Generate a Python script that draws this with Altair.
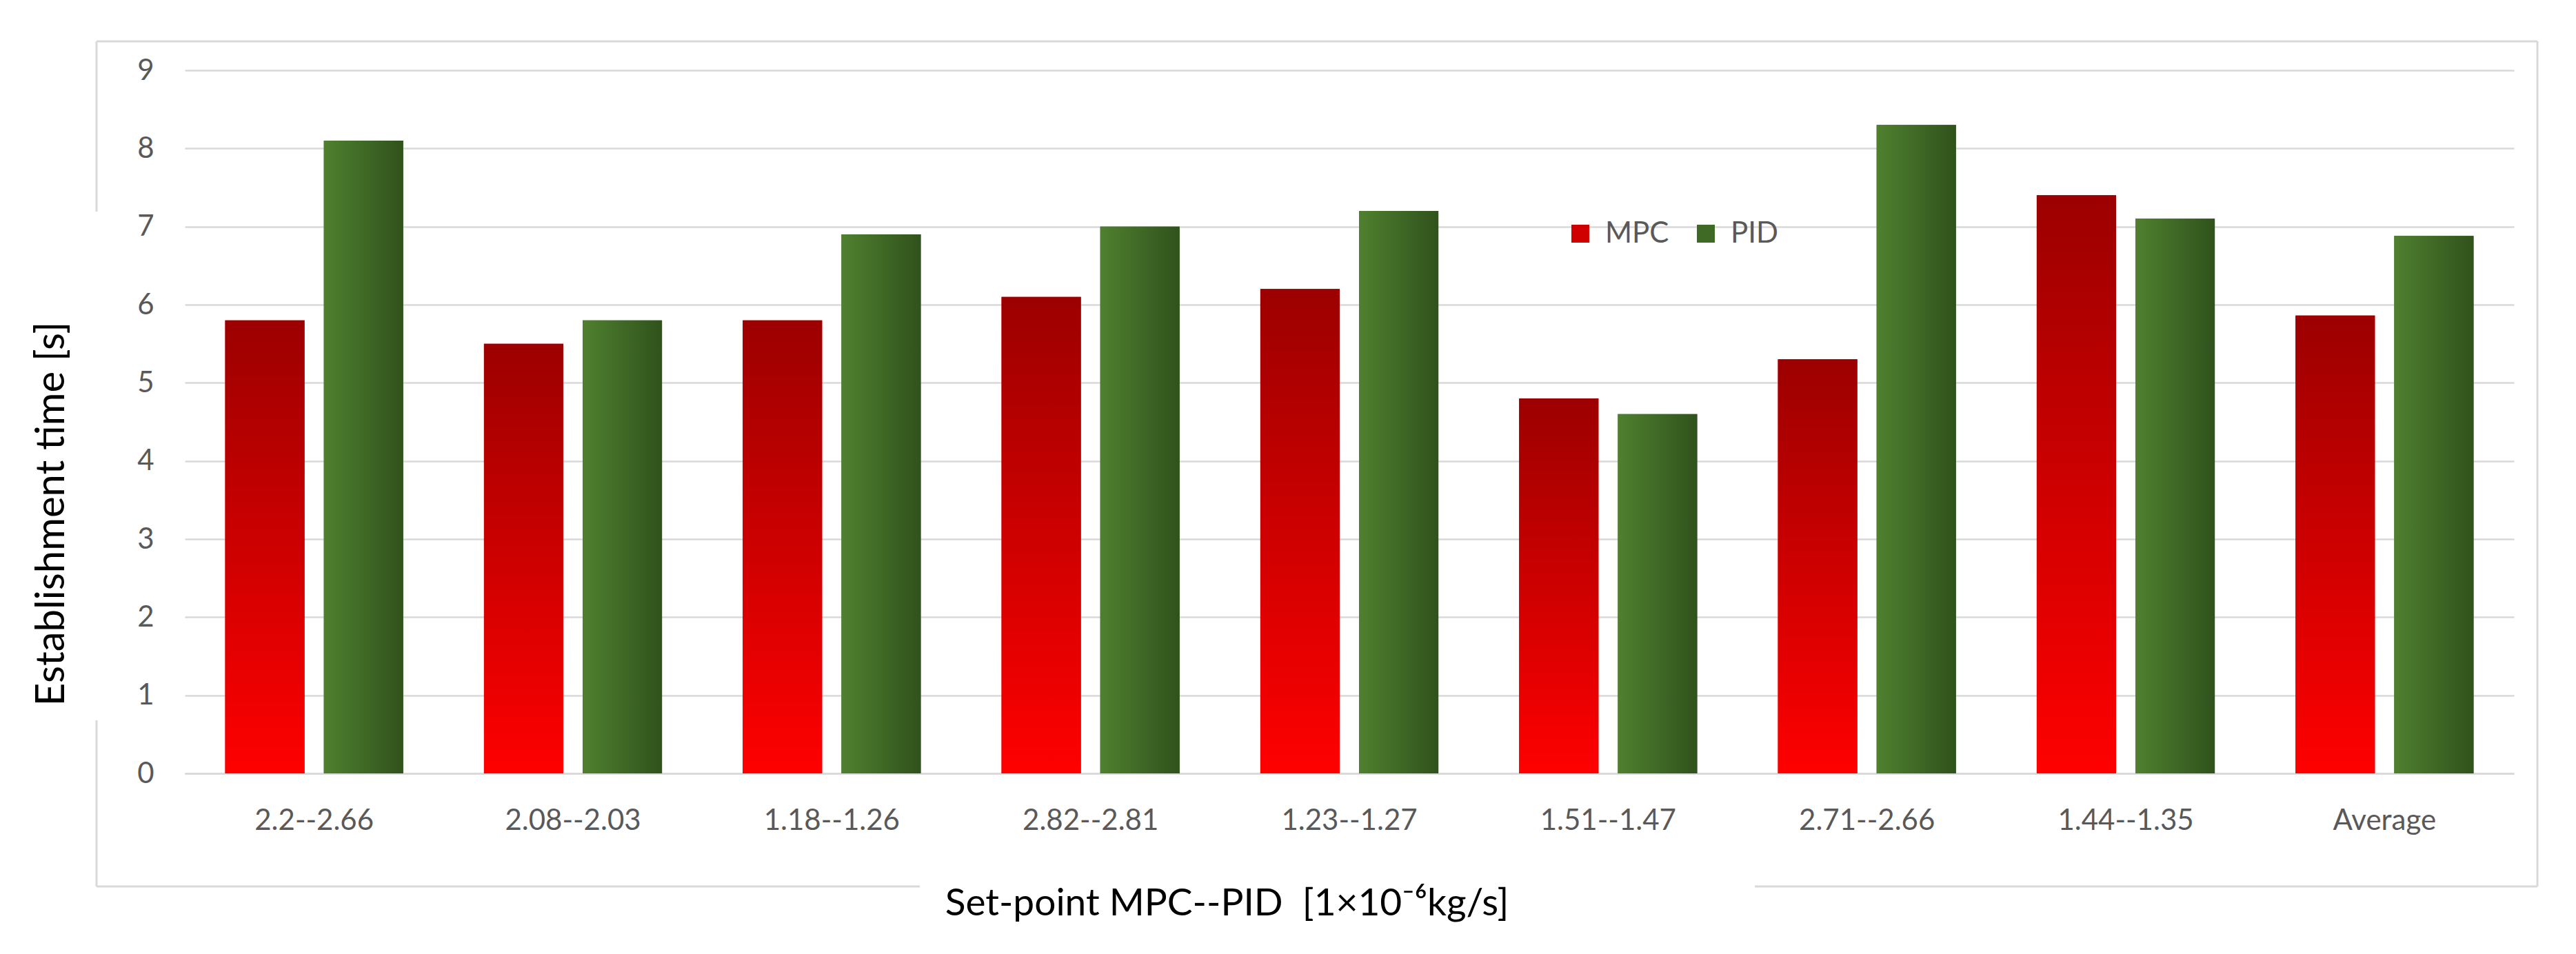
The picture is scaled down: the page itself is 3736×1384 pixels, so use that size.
import altair as alt
import pandas as pd

categories = ["2.2--2.66", "2.08--2.03", "1.18--1.26", "2.82--2.81", "1.23--1.27",
              "1.51--1.47", "2.71--2.66", "1.44--1.35", "Average"]
series = ["MPC", "PID"]
mpc_values = [5.8, 5.5, 5.8, 6.1, 6.2, 4.8, 5.3, 7.4, 5.86]
pid_values = [8.1, 5.8, 6.9, 7.0, 7.2, 4.6, 8.3, 7.1, 6.88]
y_ticks = [0, 1, 2, 3, 4, 5, 6, 7, 8, 9]

rows = []
for c, m, p in zip(categories, mpc_values, pid_values):
    rows.append({"setpoint": c, "controller": "MPC", "time": m})
    rows.append({"setpoint": c, "controller": "PID", "time": p})
df = pd.DataFrame(rows)

FONT = "Lato"
GRID = "#D9D9D9"
W, H = 3378, 1020

base = alt.Chart(df).encode(
    x=alt.X(
        "setpoint:N",
        sort=categories,
        scale=alt.Scale(paddingInner=0.312, paddingOuter=0.156),
        axis=alt.Axis(
            title="Set-point MPC--PID\u00a0 [1×10⁻⁶kg/s]",
            titleFont=FONT, titleFontSize=55, titleColor="#000000",
            titleFontWeight="normal", titleX=1511, titleY=205,
            titleAlign="center", titleBaseline="alphabetic",
            labelFont=FONT, labelFontSize=42, labelColor="#595959",
            labelAngle=0, labelBaseline="alphabetic", labelPadding=81,
            labelLimit=1000, labelOverlap=False,
            ticks=False, tickSize=0, domain=True, domainColor=GRID,
            domainWidth=2.5, grid=False,
        ),
    ),
    xOffset=alt.XOffset(
        "controller:N", sort=series,
        scale=alt.Scale(domain=series, paddingInner=0.196, paddingOuter=0),
    ),
    y=alt.Y(
        "time:Q",
        scale=alt.Scale(domain=[0, 9], nice=False),
        axis=alt.Axis(
            title="Establishment time [s]",
            titleFont=FONT, titleFontSize=58, titleColor="#000000",
            titleFontWeight="normal", titleAngle=270, titleX=-193, titleY=643,
            titleAlign="center", titleBaseline="middle",
            values=y_ticks, labelFont=FONT, labelFontSize=42,
            labelColor="#595959", labelPadding=45,
            ticks=False, tickSize=0, domain=False,
            grid=True, gridColor=GRID, gridWidth=2.5,
        ),
    ),
)

legend_layer = base.mark_bar().encode(
    color=alt.Color(
        "controller:N",
        scale=alt.Scale(domain=series, range=["#D00000", "#3F6A26"]),
        legend=alt.Legend(
            title=None, orient="none", legendX=2003, legendY=216,
            direction="horizontal", labelFont=FONT, labelFontSize=42,
            labelColor="#595959", symbolType="square", symbolSize=676,
            symbolStrokeWidth=0, labelOffset=15, columnPadding=32, padding=0,
        ),
    )
)

mpc_layer = base.transform_filter(alt.datum.controller == "MPC").mark_bar(
    fill=alt.Gradient(
        gradient="linear",
        stops=[alt.GradientStop(color="#9C0000", offset=0),
               alt.GradientStop(color="#FF0000", offset=1)],
        x1=0, x2=0, y1=0, y2=1,
    )
)

pid_layer = base.transform_filter(alt.datum.controller == "PID").mark_bar(
    fill=alt.Gradient(
        gradient="linear",
        stops=[alt.GradientStop(color="#4F802F", offset=0),
               alt.GradientStop(color="#30521C", offset=1)],
        x1=0, x2=1, y1=0, y2=0,
    )
)

frame_data = alt.Data(values=[{"k": 0}])


def seg(x1, x2, y1, y2):
    return alt.Chart(frame_data).mark_rule(color=GRID, strokeWidth=3).encode(
        x=alt.value(x1), x2=alt.value(x2), y=alt.value(y1), y2=alt.value(y2)
    )


frame = (
    seg(-128, 3412, -42, -42)
    + seg(3412, 3412, -42, 1184)
    + seg(-128, -128, -42, 205)
    + seg(-128, -128, 943, 1184)
    + seg(-128, 1066, 1184, 1184)
    + seg(2277, 3412, 1184, 1184)
)

chart = alt.layer(frame, legend_layer, mpc_layer, pid_layer).properties(
    width=W, height=H,
    autosize=alt.AutoSizeParams(type="none"),
    padding={"left": 260, "top": 94, "right": 70, "bottom": 240},
    background="white",
).configure_view(strokeWidth=0)

chart.save("out.html", embed_options={"renderer": "svg", "actions": False})
